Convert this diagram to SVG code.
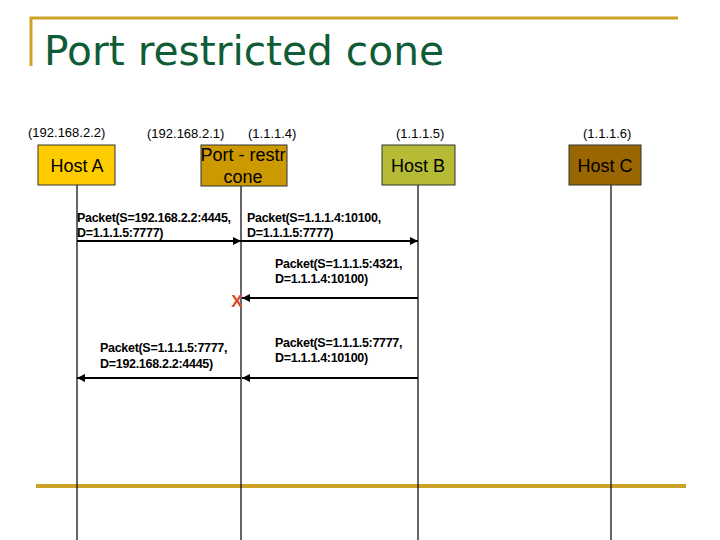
<svg xmlns="http://www.w3.org/2000/svg" width="720" height="540" viewBox="0 0 720 540">
<style>
.ip{font-family:"Liberation Sans",Arial,sans-serif;font-size:13px;fill:#000}
.nt{font-family:"Liberation Sans",Arial,sans-serif;font-size:18px;fill:#000;text-anchor:middle}
.pk{font-family:"Liberation Sans",Arial,sans-serif;font-size:12.5px;font-weight:bold;fill:#000;letter-spacing:-0.3px}
.life{stroke:#000;stroke-width:1.2}
.msg{stroke:#000;stroke-width:2;fill:none;marker-end:url(#ah)}
.box{stroke:#333;stroke-width:1}
</style>
<defs>
<marker id="ah" viewBox="0 0 10 10" refX="10" refY="5" markerWidth="4.5" markerHeight="4" orient="auto" markerUnits="strokeWidth">
<path d="M0,0 L10,5 L0,10 z" fill="#000"/>
</marker>
</defs>
<rect width="720" height="540" fill="#fff"/>
<g id="title">
<line x1="30" y1="18" x2="678" y2="18" stroke="#c9a227" stroke-width="3"/>
<line x1="31" y1="17" x2="31" y2="66" stroke="#c9a227" stroke-width="3"/>
<text x="44" y="65" font-family="'Comic Sans MS','DejaVu Sans',sans-serif" font-size="40" fill="#0f5c37" textLength="400" lengthAdjust="spacingAndGlyphs">Port restricted cone</text>
</g>
<line id="rule" x1="36" y1="486" x2="686" y2="486" stroke="#c9a227" stroke-width="4"/>
<g id="lifelines">
<line class="life" x1="77" y1="185" x2="77" y2="540"/>
<line class="life" x1="241" y1="186" x2="241" y2="540"/>
<line class="life" x1="418" y1="185" x2="418" y2="540"/>
<line class="life" x1="611" y1="185" x2="611" y2="540"/>
</g>
<g id="hostA">
<text class="ip" x="28" y="137">(192.168.2.2)</text>
<rect class="box" x="38" y="145" width="77" height="40" fill="#ffcc00"/>
<text class="nt" x="77" y="172">Host A</text>
</g>
<g id="nat">
<text class="ip" x="147" y="138">(192.168.2.1)</text>
<text class="ip" x="248" y="138">(1.1.1.4)</text>
<rect class="box" x="201" y="145" width="86" height="41" fill="#cc9900"/>
<text class="nt" x="243" y="161">Port - restr</text>
<text class="nt" x="243" y="183">cone</text>
</g>
<g id="hostB">
<text class="ip" x="396" y="138">(1.1.1.5)</text>
<rect class="box" x="382" y="145" width="73" height="40" fill="#b5bb35"/>
<text class="nt" x="418" y="172">Host B</text>
</g>
<g id="hostC">
<text class="ip" x="583" y="138">(1.1.1.6)</text>
<rect class="box" x="569" y="145" width="72" height="40" fill="#996600"/>
<text class="nt" x="605" y="172">Host C</text>
</g>
<g id="connectors">
<line class="msg" x1="77" y1="241" x2="241" y2="241"/>
<line class="msg" x1="241" y1="241" x2="418" y2="241"/>
<line class="msg" x1="418" y1="298" x2="242" y2="298"/>
<line class="msg" x1="241" y1="378" x2="77" y2="378"/>
<line class="msg" x1="418" y1="378" x2="242" y2="378"/>
</g>
<g id="labels">
<text class="pk" x="77" y="222">Packet(S=192.168.2.2:4445,</text>
<text class="pk" x="77" y="237">D=1.1.1.5:7777)</text>
<text class="pk" x="247" y="222">Packet(S=1.1.1.4:10100,</text>
<text class="pk" x="247" y="237">D=1.1.1.5:7777)</text>
<text class="pk" x="275" y="268">Packet(S=1.1.1.5:4321,</text>
<text class="pk" x="275" y="283">D=1.1.1.4:10100)</text>
<text class="pk" x="100" y="352">Packet(S=1.1.1.5:7777,</text>
<text class="pk" x="100" y="368">D=192.168.2.2:4445)</text>
<text class="pk" x="275" y="347">Packet(S=1.1.1.5:7777,</text>
<text class="pk" x="275" y="362">D=1.1.1.4:10100)</text>
<text x="237" y="307" font-family="'Liberation Sans',Arial,sans-serif" font-size="17" font-weight="bold" fill="#d9472b" text-anchor="middle">X</text>
</g>
</svg>
